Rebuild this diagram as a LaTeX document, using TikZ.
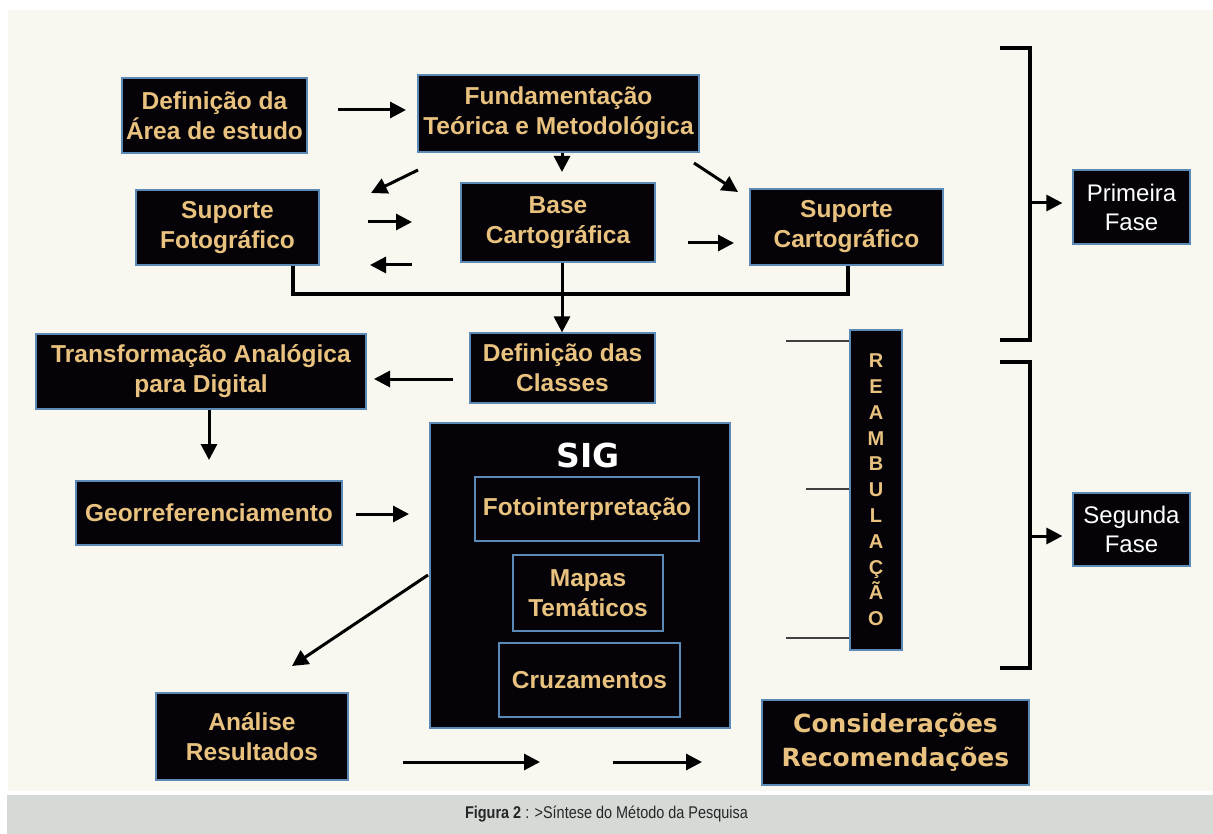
\documentclass[tikz,border=0pt]{standalone}
\usepackage{fontspec}
\setmainfont{Liberation Sans}
\newfontfamily\heavyfont{DejaVu Sans}
\newfontfamily\capfont[FakeStretch=0.85]{Liberation Sans}
\usetikzlibrary{arrows.meta}
\definecolor{bgcream}{HTML}{F8F8F0}
\definecolor{capgray}{HTML}{D5DAD6}
\definecolor{boxfill}{HTML}{050308}
\definecolor{boxline}{HTML}{5A8AB5}
\definecolor{goldtext}{HTML}{E8C27E}
\begin{document}
\begin{tikzpicture}[x=1pt,y=-1pt,
  box/.style={draw=boxline, line width=1.2pt, fill=boxfill, text=goldtext,
    font=\fontsize{24.5}{30}\selectfont\bfseries, align=center, inner sep=0pt},
  phasebox/.style={box, text=white, font=\fontsize{24}{29}\selectfont},
  arr/.style={line width=3pt, -{Triangle[length=16pt,width=16pt]}},
  link/.style={line width=3.2pt},
  thinlink/.style={line width=1.5pt, draw=black!75}
]
\useasboundingbox (0,0) rectangle (1213,834);
\fill[white] (0,0) rectangle (1213,834);
\fill[bgcream] (8,10) rectangle (1213,791);
\fill[capgray] (7,795) rectangle (1213,834);

% boxes
\node[box, minimum width=185pt, minimum height=75pt] (defarea) at (214.5,115.5) {Definição da\\Área de estudo};
\node[box, minimum width=281pt, minimum height=77pt] (fund) at (558.5,113.5) {Fundamentação\\Teórica e Metodológica};
\node[box, minimum width=183pt, minimum height=75pt] (sfoto) at (227.5,227.5) {Suporte\\Fotográfico};
\node[box, minimum width=194pt, minimum height=79pt] (base) at (558,222.5) {Base\\Cartográfica};
\node[box, minimum width=193pt, minimum height=76pt] (scart) at (846.5,227) {Suporte\\Cartográfico};
\node[box, minimum width=185pt, minimum height=70pt] (classes) at (562.5,368) {Definição das\\Classes};
\node[box, minimum width=330pt, minimum height=75pt] (transf) at (201,371.5) {Transformação Analógica\\para Digital};
\node[box, minimum width=266pt, minimum height=64pt] (geo) at (209,513) {Georreferenciamento};
\node[box, minimum width=300pt, minimum height=305pt] (sig) at (580,575.5) {};
\node[text=white, font=\heavyfont\fontsize{33}{38}\selectfont\bfseries, inner sep=0pt] (siglabel) at (588,455) {SIG};
\node[box, minimum width=224pt, minimum height=64pt] (foto) at (587,509) {Fotointerpretação};
\node[box, minimum width=150pt, minimum height=76pt] (mapas) at (588,593) {Mapas\\Temáticos};
\node[box, minimum width=181pt, minimum height=74pt] (cruz) at (589.5,680) {Cruzamentos};
\node[box, minimum width=192pt, minimum height=87pt] (analise) at (252,736.5) {Análise\\Resultados};
\node[box, minimum width=267pt, minimum height=85pt, font=\heavyfont\fontsize{25}{34}\selectfont\bfseries] (consid) at (895.5,742.5) {Considerações\\Recomendações};
\node[box, minimum width=52pt, minimum height=320pt, font=\fontsize{20}{25.8}\selectfont\bfseries] (ream) at (876,490) {R\\E\\A\\M\\B\\U\\L\\A\\Ç\\Ã\\O};
\node[phasebox, minimum width=117pt, minimum height=74pt] (prim) at (1131.5,207) {Primeira\\Fase};
\node[phasebox, minimum width=117pt, minimum height=73pt] (seg) at (1131.5,529.5) {Segunda\\Fase};

% free arrow end points
\coordinate (a1s) at (338,110);  \coordinate (a1e) at (406,110);
\coordinate (a2e) at (562,172);
\coordinate (a3s) at (418,170);  \coordinate (a3e) at (371,193);
\coordinate (a4s) at (694,163);  \coordinate (a4e) at (738,192);
\coordinate (a5s) at (368,222);  \coordinate (a5e) at (412,222);
\coordinate (a6s) at (412,265);  \coordinate (a6e) at (370,265);
\coordinate (a7s) at (688,243);  \coordinate (a7e) at (734,243);
\coordinate (a8s) at (453,379);  \coordinate (a8e) at (374,379);
\coordinate (a9e) at (209,460);
\coordinate (a10s) at (356,514); \coordinate (a10e) at (409,514);
\coordinate (a11s) at (428,575); \coordinate (a11e) at (292,666);
\coordinate (a12s) at (403,762); \coordinate (a12e) at (540,762);
\coordinate (a13s) at (613,762); \coordinate (a13e) at (702,762);

\draw[arr] (a1s) -- (a1e);
\draw[arr] (fund.south -| a2e) -- (a2e);
\draw[arr] (a3s) -- (a3e);
\draw[arr] (a4s) -- (a4e);
\draw[arr] (a5s) -- (a5e);
\draw[arr] (a6s) -- (a6e);
\draw[arr] (a7s) -- (a7e);
\draw[arr] (a8s) -- (a8e);
\draw[arr] (transf.south -| a9e) -- (a9e);
\draw[arr] (a10s) -- (a10e);
\draw[arr] (a11s) -- (a11e);
\draw[arr] (a12s) -- (a12e);
\draw[arr] (a13s) -- (a13e);

% join line under supports
\coordinate (j1) at (293,294);
\coordinate (j2) at (848,294);
\draw[link] (sfoto.south -| j1) -- (j1) -- (j2) -- (scart.south -| j2);
\draw[arr] (base.south -| 562,0) -- (classes.north -| 562,0);

% reambulacao ticks
\coordinate (r1) at (786,341);
\coordinate (r2) at (806,489);
\coordinate (r3) at (786,638);
\draw[thinlink] (r1) -- (r1 -| ream.west);
\draw[thinlink] (r2) -- (r2 -| ream.west);
\draw[thinlink] (r3) -- (r3 -| ream.west);

% phase brackets
\coordinate (b1t) at (1000,48);  \coordinate (b1b) at (1000,340);
\coordinate (b2t) at (1000,362); \coordinate (b2b) at (1000,668);
\draw[link] (b1t) -- (1030,48) -- (1030,340) -- (b1b);
\draw[link] (b2t) -- (1030,362) -- (1030,668) -- (b2b);
\coordinate (p1) at (1030,203);
\coordinate (p2) at (1030,536);
\draw[arr, shorten >=10pt] (p1) -- (p1 -| prim.west);
\draw[arr, shorten >=10pt] (p2) -- (p2 -| seg.west);

% caption
\node[font=\capfont\fontsize{17}{20}\selectfont, text=black!85] (caption) at (606.5,814) {\textbf{Figura 2} : >Síntese do Método da Pesquisa};
\end{tikzpicture}
\end{document}
